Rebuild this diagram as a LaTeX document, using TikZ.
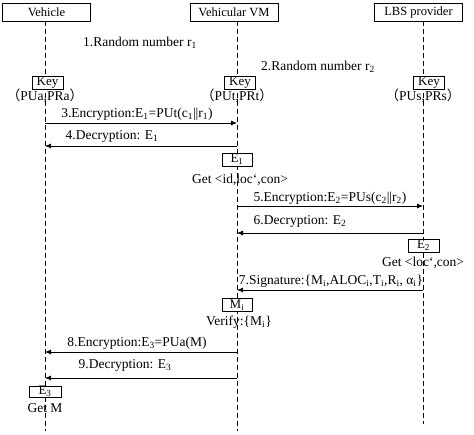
\documentclass[tikz,border=0pt]{standalone}
\usepackage{fontspec}
\setmainfont{Liberation Serif}
\newfontfamily\cjk{Noto Sans CJK SC}
\usetikzlibrary{arrows.meta}
\newcommand\sbs[1]{\textsubscript{#1}}
\newcommand\bq{\symbol{"60}}
\begin{document}
\begin{tikzpicture}[x=1pt,y=-1pt,
  every node/.style={inner sep=0pt,outer sep=0pt},
  head/.style={draw,line width=0.7pt,minimum width=88pt,minimum height=18pt,font=\fontsize{12.5}{14}\selectfont},
  keybox/.style={draw,line width=0.7pt,fill=white,minimum width=31pt,minimum height=13pt,font=\fontsize{13}{13}\selectfont},
  lbl/.style={font=\fontsize{13.5}{15}\selectfont},
  life/.style={line width=0.7pt,dash pattern=on 5pt off 3pt},
  msg/.style={line width=0.8pt,-{Latex[length=6pt,width=5pt]}}]
\useasboundingbox (0,0) rectangle (474,434);
% headers
\node[head] (hv) at (46.5,12) {Vehicle};
\node[head] (hm) at (234,12) {Vehicular VM};
\node[head] (hl) at (418.5,12) {LBS provider};
% lifeline ends
\coordinate (ev) at (45,431);
\coordinate (em) at (237,431);
\coordinate (el) at (423,424);
\draw[life] (45,21) -- (ev);
\draw[life] (237,21) -- (em);
\draw[life] (423,21) -- (el);
% random numbers
\node[lbl] (r1) at (140,43) {1.Random number r\sbs{1}};
\node[lbl] (r2) at (318,67) {2.Random number r\sbs{2}};
% keys
\node[keybox] (kv) at (47.5,83) {Key};
\node[keybox] (km) at (240,83) {Key};
\node[keybox] (kl) at (429,83) {Key};
\node[lbl] (pv) at (45,96) {{\cjk （}PUa,PRa{\cjk ）}};
\node[lbl] (pm) at (237,96) {{\cjk （}PUt,PRt{\cjk ）}};
\node[lbl] (pl) at (423,96) {{\cjk （}PUs,PRs{\cjk ）}};
% message coordinates
\coordinate (v3) at (45,123); \coordinate (m3) at (237,123);
\coordinate (m4) at (237,146); \coordinate (v4) at (45,146);
\coordinate (m5) at (237,206); \coordinate (l5) at (423,206);
\coordinate (l6) at (423,233); \coordinate (m6) at (237,233);
\coordinate (l7) at (423,290); \coordinate (m7) at (237,290);
\coordinate (m8) at (237,352); \coordinate (v8) at (45,352);
\coordinate (m9) at (237,378); \coordinate (v9) at (45,378);
\draw[msg] (v3) -- (m3);
\node[lbl] (t3) at (137,114) {3.Encryption:E\sbs{1}=PUt(c\sbs{1}||r\sbs{1})};
\draw[msg] (m4) -- (v4);
\node[lbl] (t4) at (112,136) {4.Decryption: E\sbs{1}};
\node[keybox,minimum width=30pt] (e1) at (237,159.5) {E\sbs{1}};
\node[lbl] (g1) at (240,180) {Get <id,loc\bq,con>};
\draw[msg] (m5) -- (l5);
\node[lbl] (t5) at (330,198) {5.Encryption:E\sbs{2}=PUs(c\sbs{2}||r\sbs{2})};
\draw[msg] (l6) -- (m6);
\node[lbl] (t6) at (300,221) {6.Decryption: E\sbs{2}};
\node[keybox,minimum width=31pt] (e2) at (423.5,245.5) {E\sbs{2}};
\node[lbl] (g2) at (423,263) {Get <loc\bq,con>};
\draw[msg] (l7) -- (m7);
\node[lbl] (t7) at (331,281) {7.Signature:\{M\sbs{i},ALOC\sbs{i},T\sbs{i},R\sbs{i}, α\sbs{i}\}};
\node[keybox,minimum width=30pt] (mi) at (237,305) {M\sbs{i}};
\node[lbl] (vf) at (239,322) {Verify:\{M\sbs{i}\}};
\draw[msg] (m8) -- (v8);
\node[lbl] (t8) at (137,343) {8.Encryption:E\sbs{3}=PUa(M)};
\draw[msg] (m9) -- (v9);
\node[lbl] (t9) at (125,365) {9.Decryption: E\sbs{3}};
\node[keybox,minimum width=32pt,minimum height=11pt] (e3) at (45,391.5) {E\sbs{3}};
\node[lbl] (gm) at (45,408) {Get M};
\end{tikzpicture}
\end{document}
